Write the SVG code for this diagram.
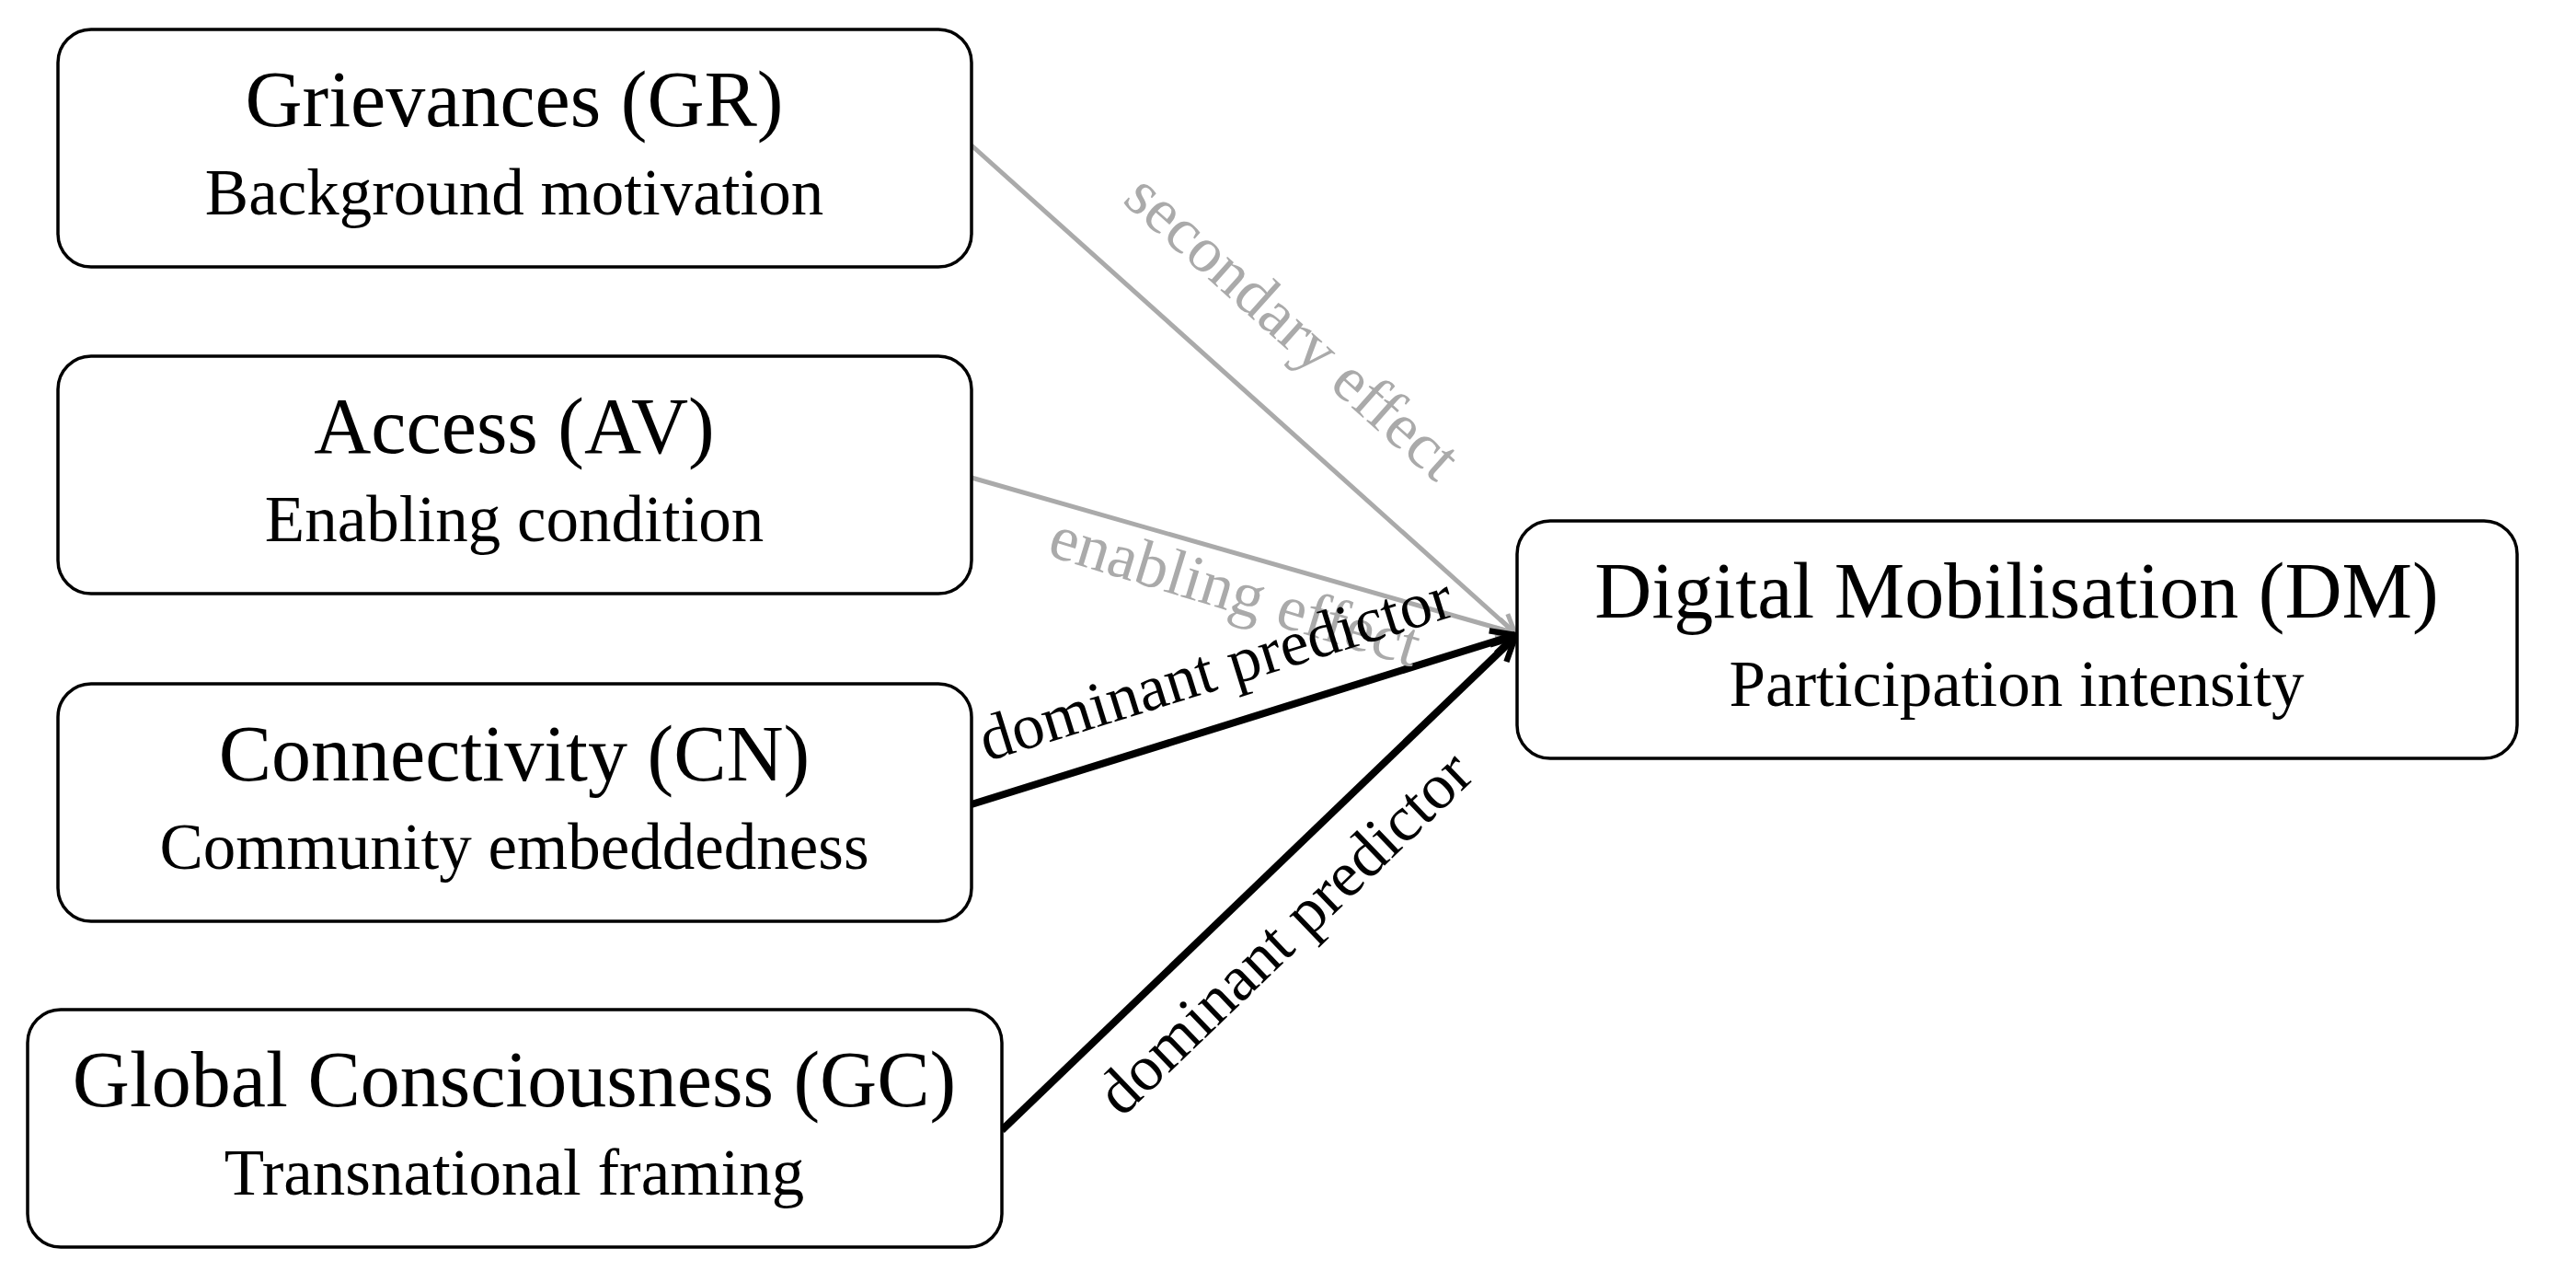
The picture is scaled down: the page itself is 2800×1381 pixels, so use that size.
<svg xmlns="http://www.w3.org/2000/svg" width="2800" height="1381" viewBox="0 0 2800 1381">
<style>
.box{fill:#fff;stroke:#000;stroke-width:3.5}
.t{font-family:"Liberation Serif","DejaVu Serif",serif;font-size:86px;text-anchor:middle;fill:#000}
.s{font-family:"Liberation Serif","DejaVu Serif",serif;font-size:71px;text-anchor:middle;fill:#000}
.el{font-family:"Liberation Serif","DejaVu Serif",serif;font-size:70px;text-anchor:middle}
.g{stroke:#aaa;stroke-width:5;fill:none}
.k{stroke:#000;stroke-width:8;fill:none}
</style>
<defs>
<marker id="ag" viewBox="0 0 10 10" refX="9" refY="5" markerWidth="5" markerHeight="5" orient="auto"><path d="M1,1 L9,5 L1,9" fill="none" stroke="#aaa" stroke-width="2"/></marker>
<marker id="ak" viewBox="0 0 10 10" refX="9" refY="5" markerWidth="4" markerHeight="4" orient="auto"><path d="M1,1 L9,5 L1,9" fill="none" stroke="#000" stroke-width="2"/></marker>
</defs>
<g id="connectors">
<line class="g" x1="1056" y1="158" x2="1647" y2="688" marker-end="url(#ag)"/>
<line class="g" x1="1056" y1="519" x2="1647" y2="688" marker-end="url(#ag)"/>
<line class="k" x1="1056" y1="874" x2="1647" y2="690" marker-end="url(#ak)"/>
<line class="k" x1="1089" y1="1228" x2="1647" y2="692" marker-end="url(#ak)"/>
<text class="el" fill="#aaa" transform="translate(1390,372) rotate(41.8)">secondary effect</text>
<text class="el" fill="#aaa" transform="translate(1336,664) rotate(17)">enabling effect</text>
<text class="el" fill="#000" transform="translate(1328,748) rotate(-17.3)">dominant predictor</text>
<text class="el" fill="#000" transform="translate(1412,1030) rotate(-43.9)">dominant predictor</text>
</g>
<g id="GR"><rect class="box" x="63" y="32" width="993" height="258" rx="36"/>
<text class="t" x="559" y="137">Grievances (GR)</text><text class="s" x="559" y="233">Background motivation</text></g>
<g id="AV"><rect class="box" x="63" y="387" width="993" height="258" rx="36"/>
<text class="t" x="559" y="492">Access (AV)</text><text class="s" x="559" y="588">Enabling condition</text></g>
<g id="CN"><rect class="box" x="63" y="743" width="993" height="258" rx="36"/>
<text class="t" x="559" y="848">Connectivity (CN)</text><text class="s" x="559" y="944">Community embeddedness</text></g>
<g id="GC"><rect class="box" x="30" y="1097" width="1059" height="258" rx="36"/>
<text class="t" x="559" y="1202">Global Consciousness (GC)</text><text class="s" x="559" y="1298">Transnational framing</text></g>
<g id="DM"><rect class="box" x="1649" y="566" width="1087" height="258" rx="36"/>
<text class="t" x="2192" y="671">Digital Mobilisation (DM)</text><text class="s" x="2192" y="767">Participation intensity</text></g>
</svg>
